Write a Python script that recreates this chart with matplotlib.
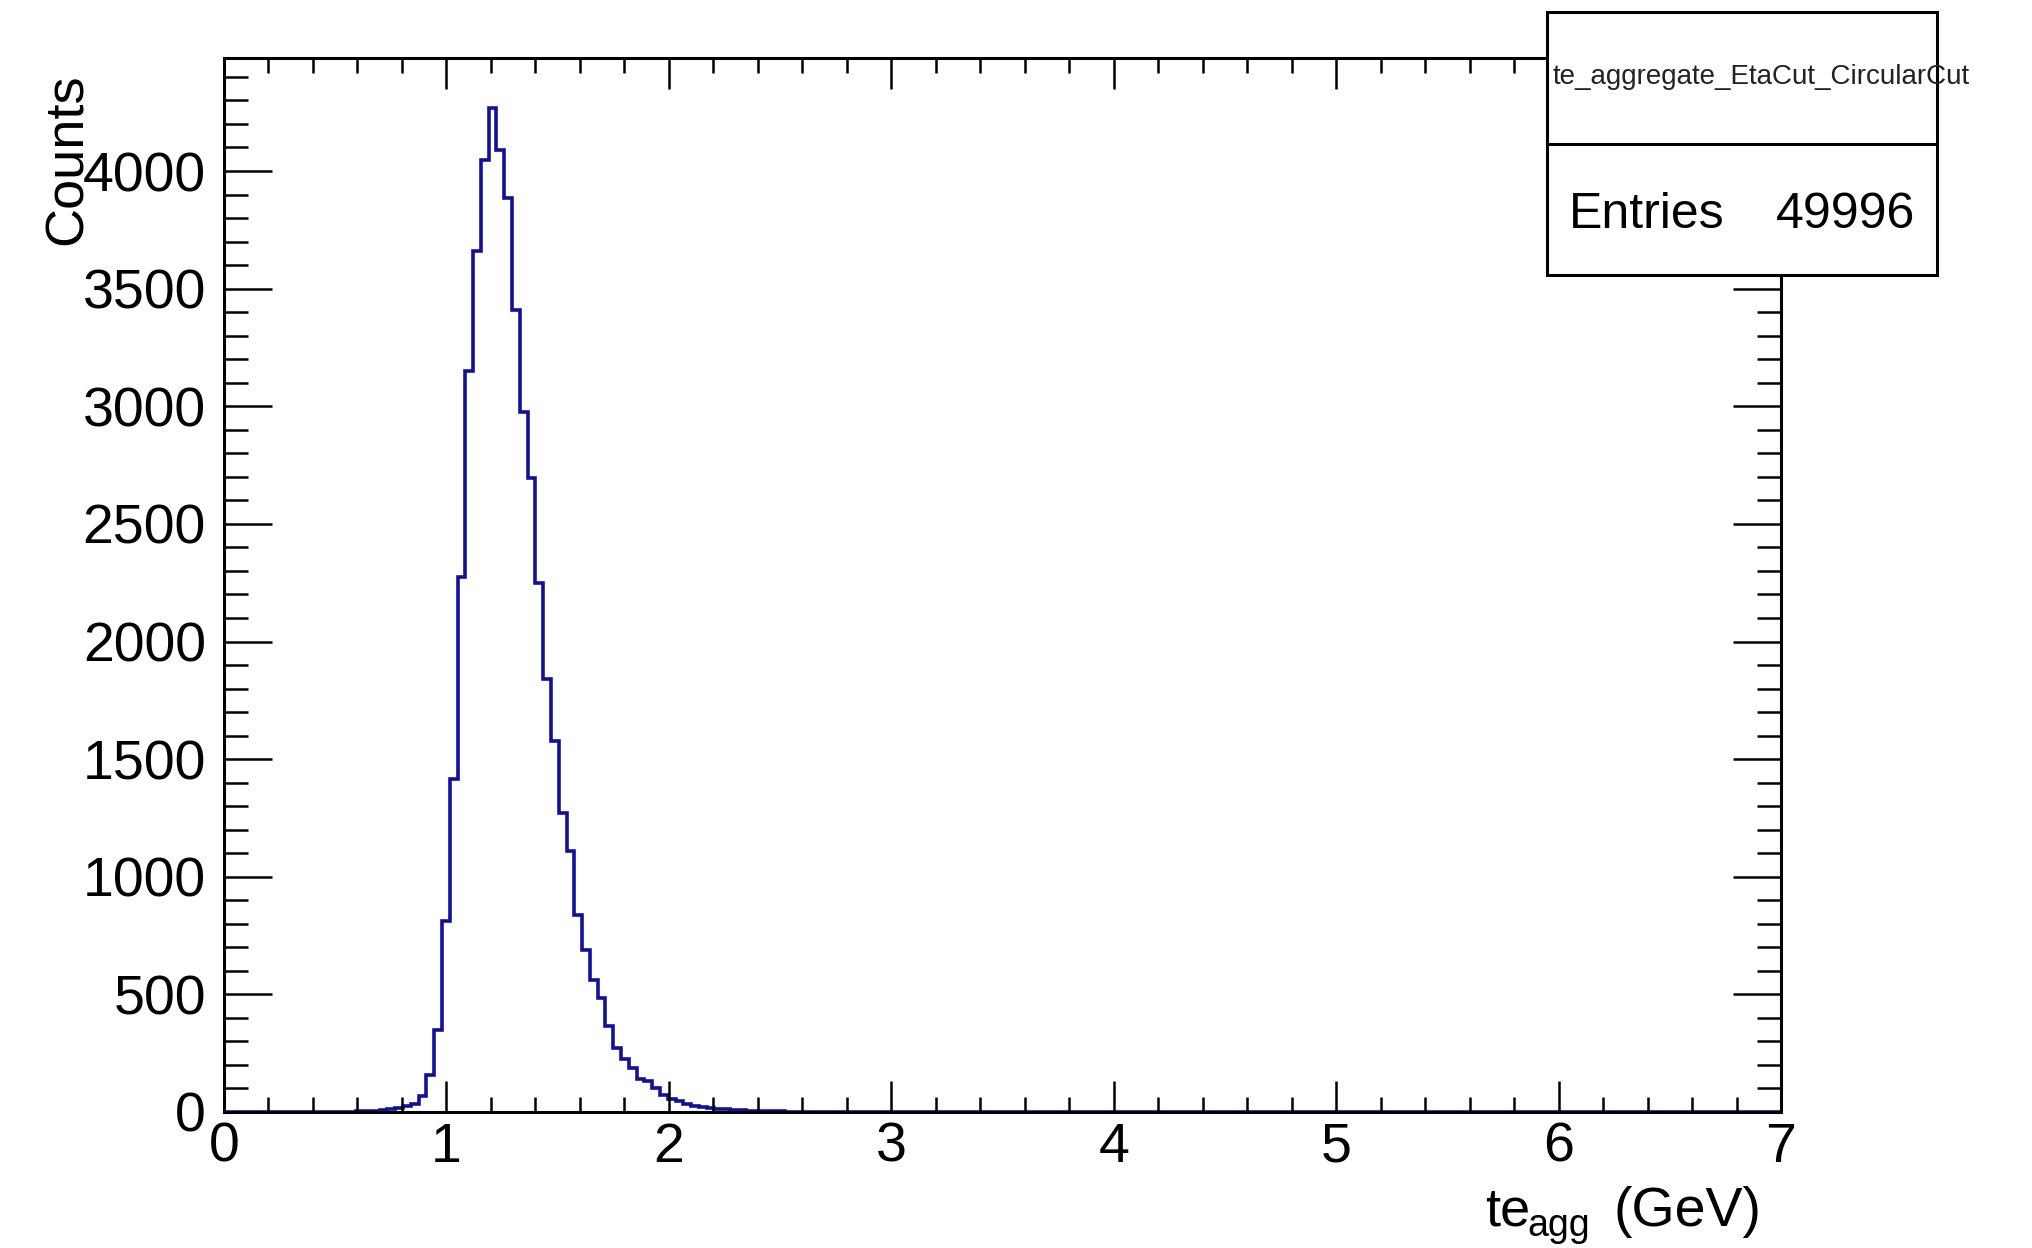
import numpy as np
import matplotlib.pyplot as plt
from matplotlib.patches import Rectangle
from matplotlib.lines import Line2D
from matplotlib.ticker import MultipleLocator

plt.rcParams['font.family'] = ['Liberation Sans', 'DejaVu Sans']

# histogram: 200 bins from 0 to 7 GeV, non-empty bins start at bin 13
n_bins = 200
x_min, x_max = 0.0, 7.0
first_bin = 13
nonzero_counts = [1, 1, 2, 2, 3, 4, 6, 8, 12, 18, 26, 33,
                  70, 158, 348, 810, 1417, 2276,
                  3150, 3662, 4048, 4267,
                  4090, 3885, 3410, 2977, 2694, 2248,
                  1842, 1578, 1270, 1108, 837, 688,
                  563, 484, 367, 272, 225, 186,
                  140, 130, 100, 72, 55, 45, 36, 26,
                  21, 17, 14, 12, 9, 7, 6, 4, 4, 3, 3, 2, 2, 1, 1, 1]
hist_title = "te_aggregate_EtaCut_CircularCut"
entries = 49996

counts = np.zeros(n_bins)
counts[first_bin:first_bin + len(nonzero_counts)] = nonzero_counts
edges = np.linspace(x_min, x_max, n_bins + 1)

W, H = 2033, 1248
fig = plt.figure(figsize=(W / 100, H / 100), dpi=100)
ax = fig.add_axes([224 / W, 1 - 1112 / H, (1781 - 224) / W, (1112 - 58) / H])

ax.stairs(counts, edges, color='#10109a', lw=2.6)

ax.set_xlim(x_min, x_max)
ax.set_ylim(0, 1.05 * counts.max())
ax.xaxis.set_major_locator(MultipleLocator(1))
ax.xaxis.set_minor_locator(MultipleLocator(0.2))
ax.yaxis.set_major_locator(MultipleLocator(500))
ax.yaxis.set_minor_locator(MultipleLocator(100))
ax.tick_params(which='both', direction='in', top=True, right=True, width=1.8, labelsize=40)
ax.tick_params(axis='x', which='major', length=22, pad=7)
ax.tick_params(axis='x', which='minor', length=11)
ax.tick_params(axis='y', which='major', length=34.5, pad=13)
ax.tick_params(axis='y', which='minor', length=17)
for s in ax.spines.values():
    s.set_linewidth(2.2)

# axis titles (ROOT style: aligned to the far ends of the axes)
fig.text(68 / W, 1 - 73 / H, 'Counts', rotation=90, ha='center', va='top', fontsize=39)
fig.text(1485 / W, 1 - 1226 / H, 'te', ha='left', va='baseline', fontsize=39)
fig.text(1527 / W, 1 - 1236 / H, 'agg', ha='left', va='baseline', fontsize=27)
fig.text(1762 / W, 1 - 1226 / H, '(GeV)', ha='right', va='baseline', fontsize=40)

# stats box
box = Rectangle((1547 / W, 1 - 275 / H), (1937 - 1547) / W, (275 - 12) / H,
                transform=fig.transFigure, facecolor='white', edgecolor='black',
                lw=2.2, zorder=10)
fig.add_artist(box)
fig.add_artist(Line2D([1547 / W, 1937 / W], [1 - 144 / H, 1 - 144 / H],
                      transform=fig.transFigure, color='black', lw=2.2, zorder=10))
fig.text(1553 / W, 1 - 77 / H, hist_title, ha='left', va='center', fontsize=20,
         color='#222222', zorder=11)
fig.text(1569 / W, 1 - 228 / H, 'Entries', ha='left', va='baseline', fontsize=36, zorder=11)
fig.text(1915 / W, 1 - 228 / H, str(entries), ha='right', va='baseline', fontsize=36, zorder=11)

fig.savefig('out.png', dpi=100)
